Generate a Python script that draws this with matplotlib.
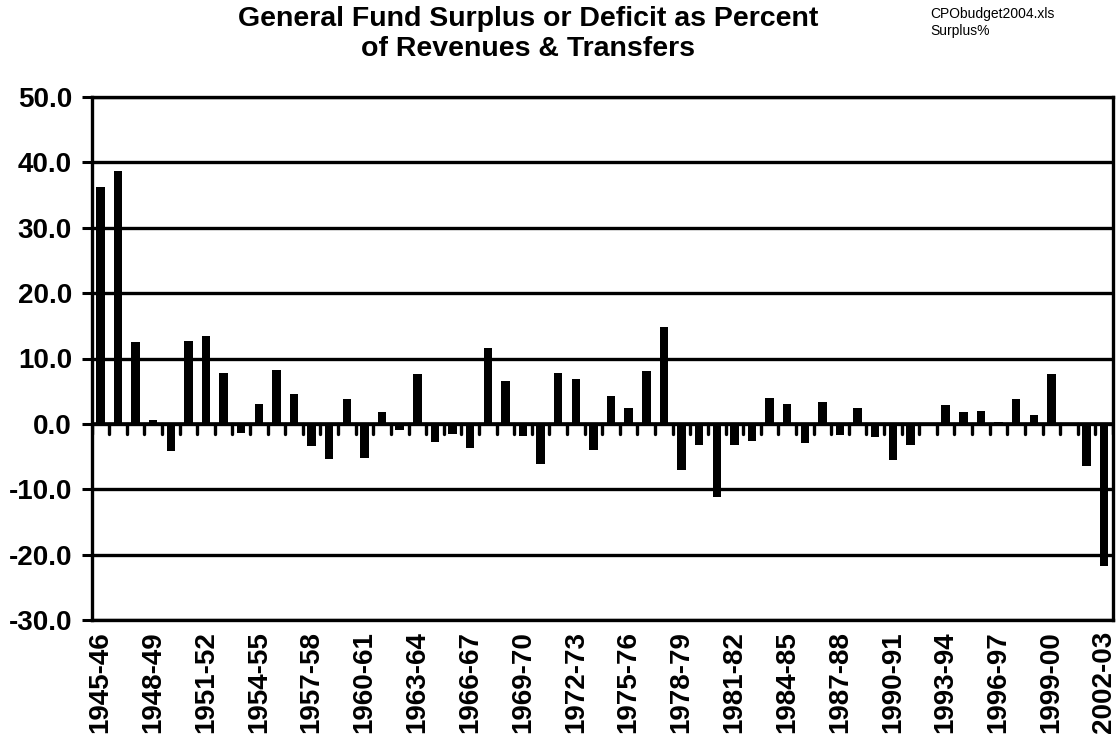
import numpy as np
import matplotlib.pyplot as plt

plt.rcParams['font.family'] = ['Liberation Sans', 'DejaVu Sans']

# fiscal years 1945-46 .. 2002-03
years = [f"{y}-{str(y + 1)[-2:]}" for y in range(1945, 2003)]

# surplus / deficit as percent of revenues & transfers
surplus_pct = [
    36.3, 38.7, 12.5, 0.6, -4.2, 12.7, 13.4, 7.8, -1.4, 3.1,
    8.2, 4.5, -3.4, -5.4, 3.8, -5.2, 1.8, -1.0, 7.7, -2.8,
    -1.5, -3.7, 11.6, 6.6, -1.9, -6.2, 7.8, 6.8, -4.0, 4.2,
    2.4, 8.1, 14.8, -7.0, -3.3, -11.2, -3.2, -2.6, 4.0, 3.1,
    -3.0, 3.3, -1.7, 2.4, -2.0, -5.6, -3.3, -0.2, 2.9, 1.8,
    2.0, 0.3, 3.8, 1.3, 7.6, -0.2, -6.4, -21.7,
]

label_every = 3
y_ticks = [50, 40, 30, 20, 10, 0, -10, -20, -30]

fig = plt.figure(figsize=(11.19, 7.44), dpi=100)
ax = fig.add_axes([91.5 / 1119, 124 / 744, (1113 - 91.5) / 1119, (620 - 97) / 744])

x = np.arange(len(years))
ax.bar(x, surplus_pct, width=0.48, color='black', zorder=3)

ax.set_xlim(-0.5, len(years) - 0.5)
ax.set_ylim(-30, 50)

# horizontal gridlines
ax.set_yticks(y_ticks)
ax.set_yticklabels([f"{v:.1f}" for v in y_ticks], fontsize=20, fontweight='bold')
ax.yaxis.grid(True, color='black', linewidth=2.4, zorder=1)
ax.tick_params(axis='y', length=7, width=2.2, pad=7)

# category tick marks hanging down from the zero line
ax.axhline(0, color='black', linewidth=2.6, zorder=2)
ax.vlines(np.arange(len(years) + 1) - 0.5, -1.6, 0, color='black',
          linewidth=2.4, capstyle='round', zorder=2)

ax.set_xticks(x[::label_every])
ax.set_xticklabels(years[::label_every], rotation=90, fontsize=20, fontweight='bold')
ax.tick_params(axis='x', length=0, pad=8)

for s in ax.spines.values():
    s.set_linewidth(2.4)
    s.set_color('black')

fig.text(0.472, 0.954, "General Fund Surplus or Deficit as Percent\nof Revenues & Transfers",
         ha='center', va='center', fontsize=20.5, fontweight='bold', linespacing=1.18)
fig.text(0.831, 0.99, "CPObudget2004.xls\nSurplus%", ha='left', va='top', fontsize=10)

plt.savefig('out.png', dpi=100)
